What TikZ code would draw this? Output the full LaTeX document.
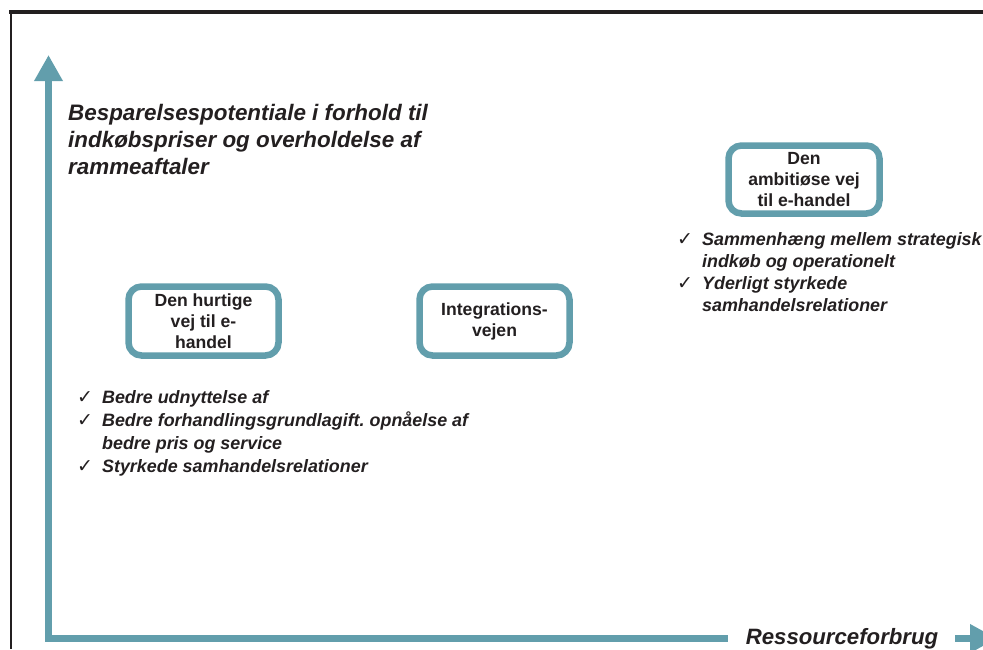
\documentclass[tikz,border=0pt]{standalone}
\usepackage{fontspec}
\setmainfont{Liberation Sans}
\newfontfamily\symfont{DejaVu Sans}
\usetikzlibrary{arrows.meta}
\definecolor{axisteal}{RGB}{98,158,172}
\definecolor{ink}{RGB}{35,31,32}
\newcommand{\tick}{{\symfont\fontsize{19}{19}\selectfont\char"2713}}
\frenchspacing
\begin{document}
\begin{tikzpicture}[x=1pt,y=-1pt,
  frame/.style={draw=ink,line cap=butt},
  axis/.style={draw=axisteal,line width=7pt,line join=miter},
  roadbox/.style={draw=axisteal,line width=6.5pt,rounded corners=13pt,fill=white,
    align=center,text=ink,font=\bfseries\fontsize{17.6}{21}\selectfont,inner sep=0pt},
  heading/.style={anchor=north west,align=left,text=ink,
    font=\bfseries\itshape\fontsize{22.4}{27}\selectfont,inner sep=0pt},
  bullets/.style={anchor=north west,align=left,text=ink,inner sep=0pt}]
\useasboundingbox (0,0) rectangle (983,649);
\clip (0,0) rectangle (983,649);

% outer frame (top and left edge)
\draw[frame,line width=4pt] (9,12) -- (983,12);
\draw[frame,line width=2pt] (11,10) -- (11,649);

% axes
\coordinate (ytip) at (48.5,55);
\coordinate (origin) at (48.5,638.5);
\coordinate (xend) at (728,638.5);
\coordinate (xstart) at (955,638.5);
\coordinate (xtip) at (997,638.5);
\draw[axis,{Triangle[length=26pt,width=27pt]}-] (ytip) -- (origin) -- (xend);
\draw[axis,-{Triangle[length=27pt,width=27pt]}] (xstart) -- (xtip);
\node[anchor=base,text=ink,font=\bfseries\itshape\fontsize{22.2}{27}\selectfont,inner sep=0pt]
  (xlabel) at (842,644) {Ressourceforbrug};

% y-axis title
\node[heading] (ytitle) at (68,104) {Besparelsespotentiale i forhold til\\indkøbspriser og overholdelse af\\rammeaftaler};

% the three roads
\node[roadbox,minimum width=150pt,minimum height=69pt] (fast) at (203.5,321)
  {Den hurtige\\vej til e-\\handel};
\node[roadbox,minimum width=150pt,minimum height=69pt] (integ) at (494.5,321)
  {Integrations-\\vejen};
\node[roadbox,minimum width=151pt,minimum height=68pt] (ambit) at (804,179.5)
  {Den\\ambitiøse vej\\til e-handel};

% benefit lists
\node[bullets,font=\bfseries\itshape\fontsize{17.9}{23}\selectfont] (fastlist) at (77,387) {%
  \begin{tabular}{@{}l@{\hspace{9pt}}l@{}}
  \tick & Bedre udnyttelse af\\
  \tick & Bedre forhandlingsgrundlagift. opnåelse af\\
        & bedre pris og service\\
  \tick & Styrkede samhandelsrelationer
  \end{tabular}};
\node[bullets,font=\bfseries\itshape\fontsize{17.9}{22}\selectfont] (ambitlist) at (677,230) {%
  \begin{tabular}{@{}l@{\hspace{9pt}}l@{}}
  \tick & Sammenhæng mellem strategisk\\
        & indkøb og operationelt\\
  \tick & Yderligt styrkede\\
        & samhandelsrelationer
  \end{tabular}};
\end{tikzpicture}
\end{document}
